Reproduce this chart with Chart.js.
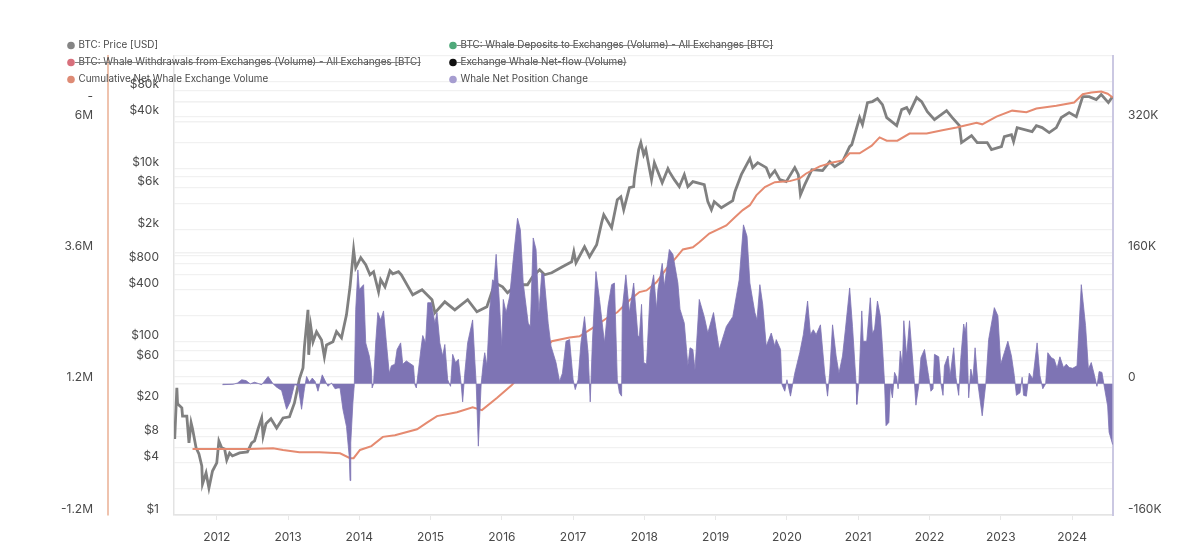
<!DOCTYPE html>
<html><head><meta charset="utf-8">
<style>html,body{margin:0;padding:0;background:#fff}canvas{display:block}</style>
<script src="https://cdn.jsdelivr.net/npm/chart.js@4/dist/chart.umd.min.js"></script>
</head><body><canvas id="c" width="1200" height="550"></canvas>
<script>
const priceYears=[2011.41,2011.44,2011.45,2011.51,2011.52,2011.58,2011.61,2011.64,2011.66,2011.71,2011.75,2011.79,2011.80,2011.85,2011.89,2011.94,2012.00,2012.03,2012.07,2012.11,2012.14,2012.18,2012.22,2012.32,2012.43,2012.49,2012.53,2012.58,2012.63,2012.65,2012.69,2012.76,2012.84,2012.93,2013.02,2013.09,2013.16,2013.21,2013.23,2013.28,2013.29,2013.32,2013.35,2013.40,2013.47,2013.51,2013.54,2013.63,2013.68,2013.75,2013.82,2013.87,2013.92,2013.95,2014.02,2014.09,2014.15,2014.20,2014.27,2014.30,2014.36,2014.43,2014.47,2014.55,2014.59,2014.75,2014.88,2015.02,2015.06,2015.20,2015.34,2015.52,2015.65,2015.79,2015.87,2015.93,2016.01,2016.08,2016.21,2016.36,2016.43,2016.53,2016.60,2016.70,2016.85,2016.98,2017.01,2017.04,2017.16,2017.23,2017.33,2017.40,2017.43,2017.54,2017.62,2017.67,2017.71,2017.79,2017.85,2017.86,2017.92,2017.95,2017.99,2018.02,2018.10,2018.14,2018.25,2018.33,2018.35,2018.42,2018.49,2018.56,2018.61,2018.68,2018.84,2018.89,2018.94,2018.98,2019.08,2019.24,2019.27,2019.36,2019.48,2019.52,2019.59,2019.71,2019.76,2019.83,2019.90,2019.99,2020.11,2020.16,2020.19,2020.25,2020.35,2020.50,2020.60,2020.67,2020.78,2020.88,2020.91,2021.02,2021.06,2021.13,2021.20,2021.27,2021.34,2021.40,2021.54,2021.61,2021.68,2021.72,2021.82,2021.89,2021.97,2022.07,2022.24,2022.32,2022.42,2022.45,2022.59,2022.67,2022.81,2022.87,2023.01,2023.05,2023.15,2023.18,2023.23,2023.44,2023.50,2023.58,2023.68,2023.78,2023.85,2023.96,2024.06,2024.15,2024.24,2024.34,2024.41,2024.51,2024.57];
const priceUsd=[7.56,29.4,19.2,17.3,13.9,13.9,6.8,11.6,9.9,5.95,5.07,3.69,2.28,3.06,2.05,3.22,3.99,7.17,5.95,5.79,4.32,5.21,4.81,5.21,5.35,6.8,7.17,9.9,13.2,8.19,11.3,12.9,10.1,13.2,13.6,19.7,37.3,50,87.5,234,70.8,149,100,131,105,67,92,100,131,111,205,432,1158,717,936,777,595,645,378,521,432,662,611,645,595,349,399,306,216,290,234,306,222,254,399,469,432,368,456,456,564,680,595,628,736,841,1097,819,1254,961,1322,2376,2938,2080,4385,4745,3357,6030,6194,7870,16600,19990,14510,16600,7464,11730,6887,10000,9230,7464,6194,8526,6194,7079,6531,4154,3357,4154,3540,4266,5420,8526,13060,10280,11730,10280,8090,9480,7464,7079,10280,8526,5004,6531,9730,9480,12050,10550,12050,17970,18930,38900,32280,57950,59540,64430,54950,38900,31410,48080,50700,44370,66220,59540,45600,36830,46880,38900,31410,19990,24090,19990,19990,16600,17970,23440,24720,20510,29780,26790,31410,29780,26060,29780,38900,44370,39900,67920,67920,62810,71640,57950,67920];
const cumYears=[2011.66,2012.18,2012.46,2012.79,2012.93,2013.16,2013.44,2013.73,2013.87,2013.92,2014.01,2014.17,2014.33,2014.50,2014.81,2014.96,2015.09,2015.37,2015.59,2015.72,2015.93,2016.14,2016.39,2016.70,2016.95,2017.09,2017.27,2017.47,2017.62,2017.79,2017.93,2018.03,2018.17,2018.31,2018.45,2018.54,2018.68,2018.77,2018.91,2019.15,2019.27,2019.38,2019.48,2019.57,2019.69,2019.83,2020.04,2020.18,2020.27,2020.46,2020.64,2020.78,2020.88,2021.02,2021.19,2021.30,2021.40,2021.55,2021.72,2021.96,2022.18,2022.38,2022.66,2022.74,2022.94,2023.16,2023.36,2023.50,2023.78,2024.03,2024.15,2024.27,2024.41,2024.50,2024.57];
const cumVolumeM=[0.01,0.01,0.01,0.02,-0.01,-0.05,-0.05,-0.07,-0.16,-0.16,-0.01,0.06,0.23,0.26,0.37,0.50,0.61,0.68,0.77,0.72,0.94,1.18,1.54,1.98,2.05,2.07,2.22,2.40,2.51,2.73,2.88,2.91,3.06,3.31,3.52,3.66,3.70,3.79,3.95,4.10,4.25,4.38,4.47,4.65,4.80,4.89,4.91,4.96,5.05,5.18,5.25,5.29,5.42,5.42,5.56,5.71,5.65,5.65,5.78,5.78,5.84,5.89,5.98,5.95,6.09,6.20,6.17,6.24,6.29,6.35,6.50,6.53,6.55,6.51,6.44];
const whaleYears=[2012.08,2012.23,2012.29,2012.35,2012.41,2012.47,2012.53,2012.63,2012.72,2012.79,2012.84,2012.91,2012.98,2013.03,2013.09,2013.14,2013.19,2013.23,2013.26,2013.30,2013.34,2013.38,2013.42,2013.48,2013.53,2013.56,2013.61,2013.66,2013.70,2013.73,2013.77,2013.82,2013.86,2013.87,2013.88,2013.91,2013.93,2013.95,2013.98,2014.00,2014.06,2014.09,2014.14,2014.17,2014.18,2014.20,2014.23,2014.26,2014.30,2014.34,2014.38,2014.42,2014.45,2014.50,2014.53,2014.58,2014.61,2014.66,2014.76,2014.78,2014.80,2014.83,2014.87,2014.89,2014.93,2014.96,2015.01,2015.06,2015.09,2015.13,2015.17,2015.20,2015.24,2015.28,2015.31,2015.35,2015.39,2015.43,2015.45,2015.48,2015.52,2015.59,2015.62,2015.64,2015.67,2015.71,2015.74,2015.76,2015.79,2015.83,2015.87,2015.89,2015.92,2015.96,2016.00,2016.02,2016.06,2016.11,2016.16,2016.22,2016.26,2016.30,2016.37,2016.40,2016.44,2016.48,2016.52,2016.56,2016.59,2016.65,2016.69,2016.76,2016.81,2016.85,2016.90,2016.95,2017.00,2017.03,2017.07,2017.11,2017.16,2017.21,2017.24,2017.27,2017.32,2017.37,2017.44,2017.49,2017.54,2017.58,2017.62,2017.65,2017.68,2017.69,2017.74,2017.79,2017.85,2017.91,2017.93,2017.96,2017.99,2018.03,2018.08,2018.13,2018.17,2018.19,2018.25,2018.28,2018.35,2018.40,2018.47,2018.50,2018.56,2018.61,2018.64,2018.68,2018.71,2018.77,2018.84,2018.89,2018.97,2019.05,2019.15,2019.24,2019.33,2019.39,2019.44,2019.48,2019.55,2019.58,2019.62,2019.66,2019.71,2019.78,2019.83,2019.85,2019.91,2019.93,2019.97,2020.00,2020.05,2020.11,2020.18,2020.23,2020.29,2020.33,2020.37,2020.41,2020.47,2020.53,2020.57,2020.60,2020.64,2020.69,2020.73,2020.78,2020.82,2020.88,2020.92,2020.97,2020.98,2021.01,2021.05,2021.07,2021.12,2021.17,2021.20,2021.23,2021.27,2021.31,2021.34,2021.37,2021.39,2021.43,2021.45,2021.48,2021.51,2021.54,2021.56,2021.59,2021.62,2021.64,2021.68,2021.72,2021.76,2021.79,2021.81,2021.85,2021.88,2021.93,2021.98,2022.02,2022.05,2022.07,2022.13,2022.16,2022.19,2022.21,2022.26,2022.29,2022.34,2022.37,2022.41,2022.44,2022.48,2022.50,2022.52,2022.55,2022.58,2022.61,2022.64,2022.68,2022.74,2022.79,2022.83,2022.91,2022.96,2023.00,2023.05,2023.10,2023.15,2023.19,2023.22,2023.27,2023.30,2023.32,2023.36,2023.40,2023.45,2023.51,2023.55,2023.59,2023.63,2023.66,2023.71,2023.75,2023.79,2023.83,2023.88,2023.92,2023.96,2024.01,2024.07,2024.13,2024.19,2024.23,2024.27,2024.31,2024.35,2024.38,2024.42,2024.45,2024.50,2024.52,2024.57];
const whaleNetK=[-1,-0.5,1,5,4,0,2,-1,9,0,-4,-8,-31,-22,-1,-2,-31,-6,9,2,7,3,-9,11,2,-3,1,-6,-5,-5,-31,-52,-90,-118,-72,-23,-1,91,139,115,121,50,34,17,-5,0,50,87,78,89,50,13,22,24,42,50,24,28,22,-1,-5,17,46,59,50,99,99,74,87,50,34,48,5,-3,36,26,30,-1,-22,13,50,78,30,0,-76,0,26,38,22,91,127,125,158,107,46,103,87,107,152,202,188,123,74,70,178,164,87,135,133,74,46,26,3,13,52,54,5,-7,5,50,82,38,-22,50,137,103,50,95,121,123,5,-11,-15,91,133,87,123,58,58,97,26,24,111,133,91,115,147,119,164,158,123,91,74,22,44,42,17,103,82,62,87,42,70,82,127,194,180,123,87,78,121,97,46,62,46,54,42,-1,-9,5,-15,13,38,60,101,60,66,60,72,13,-15,13,72,34,13,34,66,117,70,1,-25,1,89,52,52,105,61,67,101,83,46,0,-51,-47,-2,-17,14,8,-6,40,22,77,34,77,34,0,-26,-2,32,42,14,-9,-6,36,33,0,-14,22,34,10,44,8,-14,32,73,63,75,-17,18,6,44,0,-39,0,54,93,83,24,38,52,34,10,-14,-11,8,-14,-15,13,6,50,10,-6,0,38,32,30,19,33,20,24,20,19,22,121,71,18,26,12,-3,15,14,-2,-27,-59,-74];
const yearTicks=[2012,2013,2014,2015,2016,2017,2018,2019,2020,2021,2022,2023,2024];
const priceTicks=[1,2,4,6,8,10,20,40,60,80,100,200,400,600,800,1000,2000,4000,6000,8000,10000,20000,40000,60000,80000,100000,200000];
const priceLabeled=[1,4,8,20,60,100,400,800,2000,6000,10000,40000,80000];
const volumeTicks=[-1200000,1200000,3600000,6000000,6360000];
const volumeLabels=['-1.2M','1.2M','3.6M','6M','-'];
const whaleTicks=[-160000,0,160000,320000];
const whaleLabels=['-160K','0','160K','320K'];
const legendNames=['BTC: Price [USD]','BTC: Whale Deposits to Exchanges (Volume) - All Exchanges [BTC]','BTC: Whale Withdrawals from Exchanges (Volume) - All Exchanges [BTC]','Exchange Whale Net-flow (Volume)','Cumulative Net Whale Exchange Volume','Whale Net Position Change'];

const zip=(xs,ys,k)=>xs.map((x,i)=>({x,y:ys[i]*k}));
const FONT='Inter, "Liberation Sans", sans-serif';
const TXT='#4a4a4a';
const colors=['#858585','#4fa97a','#d8707c','#111111','#de8b75','#a69dd0'];

const legendPlugin={id:'sideLegend',afterDraw(chart){
  const c=chart.ctx;
  const cols=[71,453],rows=[45.5,62.5,79.5];
  c.save();
  c.font='9.9px '+FONT;c.textBaseline='middle';
  chart.data.datasets.forEach((ds,i)=>{
    const x=cols[i%2],y=rows[Math.floor(i/2)];
    c.fillStyle=ds.legendColor;
    c.beginPath();c.arc(x,y,3.8,0,Math.PI*2);c.fill();
    c.fillStyle=TXT;c.textAlign='left';
    c.fillText(ds.label,x+7.5,y);
    if(ds.hidden){
      const w=c.measureText(ds.label).width;
      c.strokeStyle='#777';c.lineWidth=0.9;
      c.beginPath();c.moveTo(x+4,y);c.lineTo(x+7.5+w,y);c.stroke();
    }
  });
  c.restore();
}};

new Chart(document.getElementById('c'),{
  type:'line',
  data:{datasets:[
    {label:legendNames[0],legendColor:colors[0],data:zip(priceYears,priceUsd,1),yAxisID:'price',borderColor:'#808080',borderWidth:2.8,pointRadius:0,tension:0,order:3},
    {label:legendNames[1],legendColor:colors[1],data:[],hidden:true,yAxisID:'right'},
    {label:legendNames[2],legendColor:colors[2],data:[],hidden:true,yAxisID:'right'},
    {label:legendNames[3],legendColor:colors[3],data:[],hidden:true,yAxisID:'right'},
    {label:legendNames[4],legendColor:colors[4],data:zip(cumYears,cumVolumeM,1e6),yAxisID:'left',borderColor:'#e58a70',borderWidth:2,pointRadius:0,tension:0,order:2},
    {label:legendNames[5],legendColor:colors[5],data:zip(whaleYears,whaleNetK,1e3),yAxisID:'right',borderColor:'#7e74b4',backgroundColor:'#7e74b4',borderWidth:0.8,pointRadius:0,tension:0,fill:{value:0},order:1}
  ]},
  plugins:[legendPlugin],
  options:{
    responsive:false,animation:false,
    layout:{padding:{top:56,left:0,right:0,bottom:0}},
    plugins:{legend:{display:false},tooltip:{enabled:false}},
    scales:{
      x:{type:'linear',position:'bottom',min:2011.4,max:2024.575,
        afterBuildTicks:s=>{s.ticks=yearTicks.map(v=>({value:v}))},
        afterFit:s=>{s.height=35},
        border:{display:true,color:'#e4e4e4',width:1.5},
        grid:{drawOnChartArea:false,drawTicks:true,tickLength:5,color:'#e8e8e8'},
        ticks:{color:TXT,font:{family:FONT,size:12},padding:10,autoSkip:false,maxRotation:0,callback:v=>String(v)}},
      left:{type:'linear',position:'left',weight:1,min:-1200000,max:7200000,
        afterBuildTicks:s=>{s.ticks=volumeTicks.map(v=>({value:v}))},
        afterFit:s=>{s.width=108},
        border:{display:true,color:'#efc3ae',width:2},
        grid:{drawOnChartArea:true,drawTicks:false,color:'#f1f1f1',lineWidth:1.5},
        ticks:{color:TXT,font:{family:FONT,size:12},padding:15,labelOffset:-6,autoSkip:false,callback:v=>{const i=volumeTicks.indexOf(v);return i<0?'':volumeLabels[i]}}},
      price:{type:'logarithmic',position:'left',weight:0,min:1,max:200000,
        afterBuildTicks:s=>{s.ticks=priceTicks.map(v=>({value:v}))},
        afterFit:s=>{s.width=66},
        border:{display:true,color:'#e3e3e3',width:1.5},
        grid:{drawOnChartArea:true,drawTicks:false,color:'#f1f1f1',lineWidth:1.2},
        ticks:{color:TXT,font:{family:FONT,size:12},padding:15,labelOffset:-6,autoSkip:false,callback:v=>{
          if(!priceLabeled.includes(v))return '';
          return v>=1000?'$'+(v/1000)+'k':'$'+v;}}},
      right:{type:'linear',position:'right',min:-160000,max:400000,
        afterBuildTicks:s=>{s.ticks=whaleTicks.map(v=>({value:v}))},
        afterFit:s=>{s.width=87},
        border:{display:true,color:'#cbc8e2',width:2},
        grid:{drawOnChartArea:false,drawTicks:false},
        ticks:{color:TXT,font:{family:FONT,size:12},padding:15,labelOffset:-6,autoSkip:false,callback:v=>{const i=whaleTicks.indexOf(v);return i<0?'':whaleLabels[i]}}}
    }
  }
});
</script></body></html>
